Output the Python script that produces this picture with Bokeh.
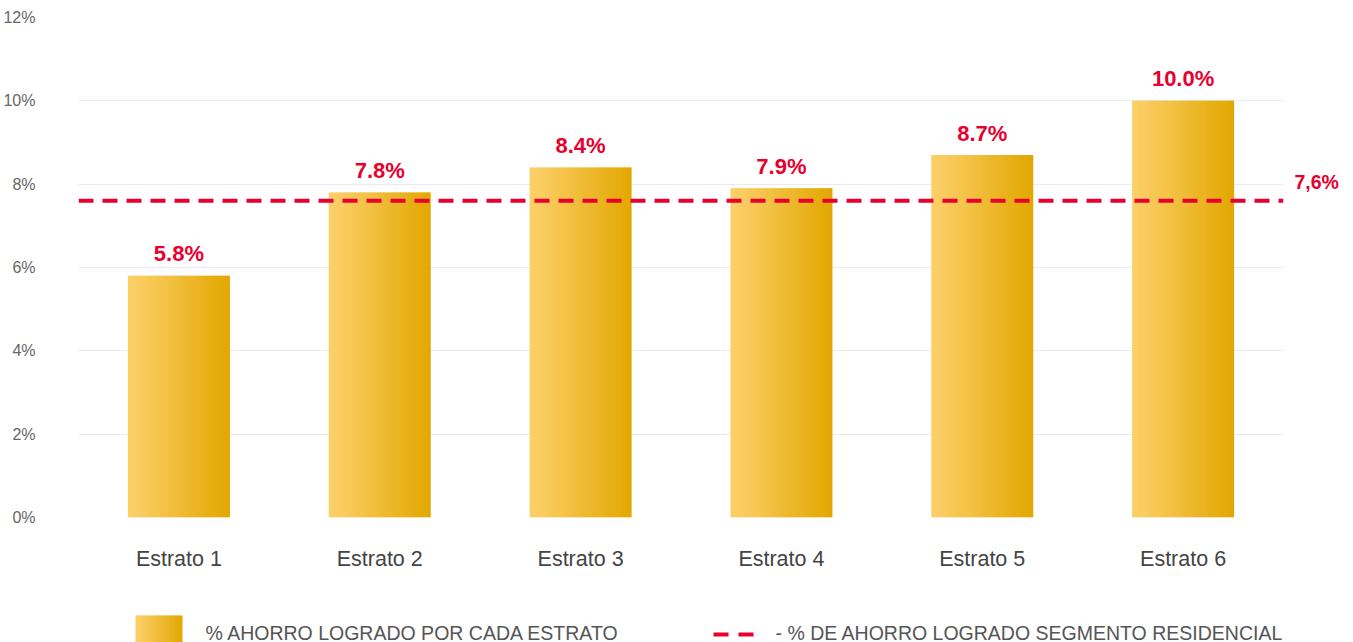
from bokeh.plotting import figure
from bokeh.layouts import column
from bokeh.models import Range1d, FixedTicker, LinearAxis, Span
from bokeh.embed import file_html
from bokeh.resources import INLINE
from bokeh.core.properties import value

# ---------------- data ----------------
categories = ["Estrato 1", "Estrato 2", "Estrato 3", "Estrato 4", "Estrato 5", "Estrato 6"]
savings = [5.8, 7.8, 8.4, 7.9, 8.7, 10.0]
value_labels = ["5.8%", "7.8%", "8.4%", "7.9%", "8.7%", "10.0%"]
residential_avg = 7.6
residential_label = "7,6%"
y_ticks = [0, 2, 4, 6, 8, 10, 12]
y_tick_labels = ["0%", "2%", "4%", "6%", "8%", "10%", "12%"]
legend_labels = ["% AHORRO LOGRADO POR CADA ESTRATO",
                 "- % DE AHORRO LOGRADO SEGMENTO RESIDENCIAL"]

# ---------------- style ----------------
FONT = "Liberation Sans"
RED = "#E8002F"
BAR_W = 0.508
GRAD_STOPS = [(0.0, (251, 208, 106)), (0.12, (250, 204, 96)), (1.0, (226, 167, 0))]


def grad_color(t):
    for (t0, c0), (t1, c1) in zip(GRAD_STOPS[:-1], GRAD_STOPS[1:]):
        if t <= t1:
            f = (t - t0) / (t1 - t0) if t1 > t0 else 0
            c = [round(a + (b - a) * f) for a, b in zip(c0, c1)]
            return "#%02x%02x%02x" % tuple(c)
    return "#%02x%02x%02x" % GRAD_STOPS[-1][1]


n_cat = len(categories)
centers = [i + 0.5 for i in range(n_cat)]

# ---------------- main chart ----------------
p = figure(width=1353, height=600, output_backend="svg", toolbar_location=None,
           x_range=Range1d(0, n_cat), y_range=Range1d(0, 12))
p.min_border_left = 78
p.min_border_right = 70
p.min_border_top = 17
p.min_border_bottom = 83
p.outline_line_color = None

p.xgrid.visible = False
p.ygrid.ticker = FixedTicker(ticks=y_ticks)
p.ygrid.grid_line_color = "#ebebeb"
p.ygrid.grid_line_width = 1

# left axis
p.yaxis.ticker = FixedTicker(ticks=y_ticks)
p.yaxis.major_label_overrides = {t: lab for t, lab in zip(y_ticks, y_tick_labels)}
p.yaxis.axis_line_color = None
p.yaxis.major_tick_line_color = None
p.yaxis.minor_tick_line_color = None
p.yaxis.major_tick_in = 0
p.yaxis.major_tick_out = 0
p.yaxis.major_label_standoff = 43
p.yaxis.major_label_text_font = FONT
p.yaxis.major_label_text_font_size = "16px"
p.yaxis.major_label_text_color = "#666666"

# bottom axis
p.xaxis.ticker = FixedTicker(ticks=centers)
p.xaxis.major_label_overrides = {c: lab for c, lab in zip(centers, categories)}
p.xaxis.axis_line_color = None
p.xaxis.major_tick_line_color = None
p.xaxis.minor_tick_line_color = None
p.xaxis.major_tick_in = 0
p.xaxis.major_tick_out = 0
p.xaxis.major_label_text_font = FONT
p.xaxis.major_label_text_font_size = "21.5px"
p.xaxis.major_label_text_color = "#444444"
p.xaxis.major_label_standoff = 29

# right axis carrying the residential-average label
p.extra_y_ranges = {"avg": Range1d(-0.45, 12 - 0.45)}
ax_r = LinearAxis(y_range_name="avg", ticker=FixedTicker(ticks=[residential_avg]),
                  major_label_overrides={residential_avg: residential_label})
ax_r.axis_line_color = None
ax_r.major_tick_line_color = None
ax_r.minor_tick_line_color = None
ax_r.major_tick_in = 0
ax_r.major_tick_out = 0
ax_r.major_label_standoff = 11
ax_r.major_label_text_font = FONT
ax_r.major_label_text_font_style = "bold"
ax_r.major_label_text_font_size = "19.5px"
ax_r.major_label_text_color = RED
p.add_layout(ax_r, "right")

# gradient bars drawn as thin slices
N = 40
lefts, rights, tops, colors = [], [], [], []
for c, v in zip(centers, savings):
    x0 = c - BAR_W / 2
    sw = BAR_W / N
    for k in range(N):
        lefts.append(x0 + k * sw)
        rights.append(x0 + min((k + 1.6) * sw, BAR_W))
        tops.append(v)
        colors.append(grad_color((k + 0.5) / N))
p.quad(left=lefts, right=rights, bottom=0, top=tops, fill_color=colors, line_color=None)

# value labels
p.text(x=centers, y=savings, text=value_labels, text_align="center",
       text_baseline="alphabetic", y_offset=-22, text_font=value(FONT),
       text_font_style="bold", text_font_size="22px", text_color=RED)

# residential average line
p.add_layout(Span(location=residential_avg, dimension="width", line_color=RED,
                  line_width=4, line_dash="15 9"))

# ---------------- legend strip (frame aligned with main chart: 78..1283 px) ----
lg = figure(width=1353, height=42, output_backend="svg", toolbar_location=None,
            x_range=Range1d(78, 1283), y_range=Range1d(0, 42))
lg.min_border_left = 78
lg.min_border_right = 70
lg.min_border_top = 0
lg.min_border_bottom = 0
lg.outline_line_color = None
lg.axis.visible = False
lg.grid.visible = False

sw_l, sw_r, ns = 135, 182, 24
step = (sw_r - sw_l) / ns
lg.quad(left=[sw_l + k * step for k in range(ns)],
        right=[min(sw_l + (k + 1.5) * step, sw_r) for k in range(ns)],
        bottom=0, top=27, fill_color=[grad_color((k + 0.5) / ns) for k in range(ns)],
        line_color=None)
lg.quad(left=[713, 738], right=[728, 753], bottom=6, top=10, fill_color=RED,
        line_color=None)
lg.text(x=[205, 775], y=[10, 10], text=legend_labels, text_baseline="middle",
        text_font=value(FONT), text_font_size="19.5px", text_color="#555555")

layout = column(p, lg, spacing=0)
open("out.html", "w").write(file_html(layout, INLINE))
